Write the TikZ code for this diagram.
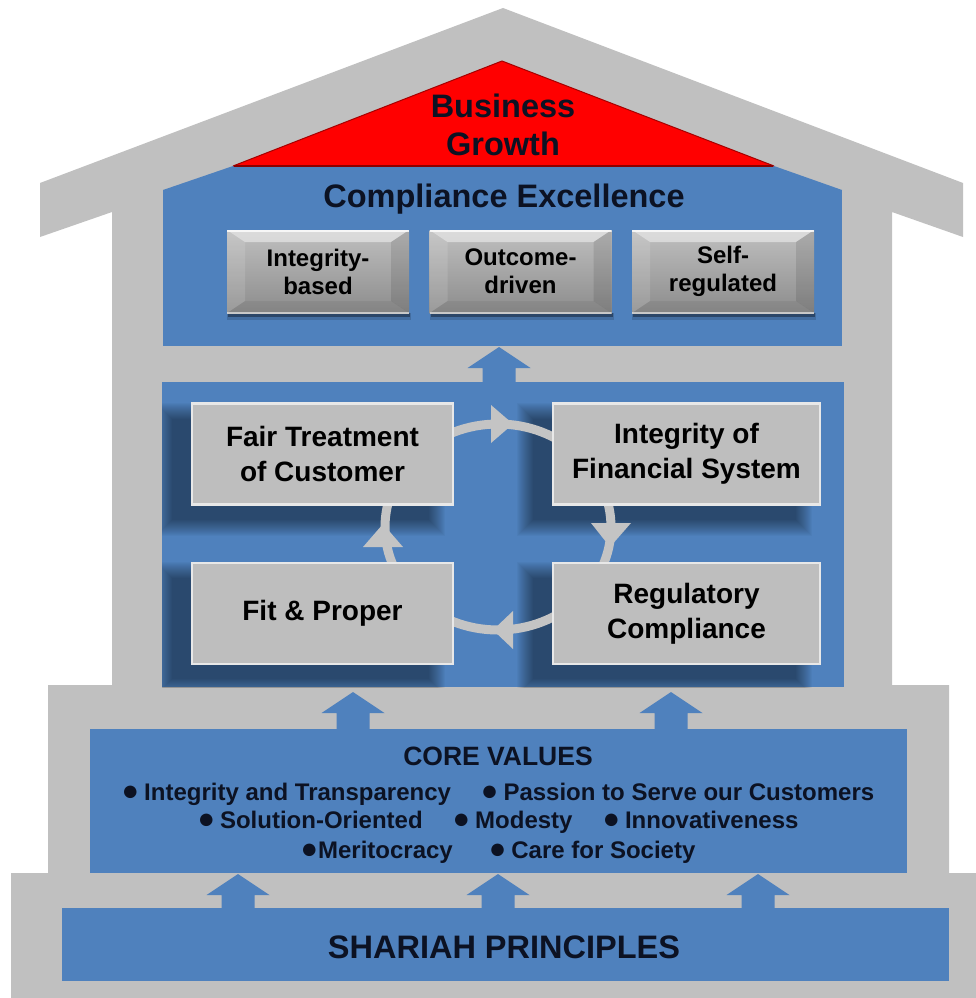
\documentclass[tikz,border=0pt]{standalone}
\usepackage{fontspec}
\setmainfont{Liberation Sans}
\usetikzlibrary{calc}

\definecolor{housegray}{RGB}{192,192,192}
\definecolor{bluemain}{RGB}{79,129,189}
\definecolor{darktext}{RGB}{12,18,35}
\definecolor{redroof}{RGB}{255,0,0}
\definecolor{boxgray}{RGB}{190,190,190}
\definecolor{ringgray}{RGB}{196,196,196}

\newcommand\bul{{\fontsize{29}{29}\selectfont ●}\hspace{5pt}}
\newcommand\bulx{{\fontsize{29}{29}\selectfont ●}}

% soft blurred shadow under a node
\newcommand\softshadow[1]{%
  \foreach \e in {16,15,...,0}{%
    \fill[black,opacity=0.026] ([shift={(-20-\e,15-\e)}]#1.north west) rectangle ([shift={(-24+\e,15+\e)}]#1.south east);
  }}
% block arrow from a point on a node to a tip coordinate
\newcommand\blockarrow[2]{%
  \fill[bluemain] let \p1=(#1), \p2=(#2) in
   (\x1-16.5pt,\y1) -- (\x1-16.5pt,\y2-21pt) -- (\x1-31.5pt,\y2-21pt) -- (\x1,\y2)
   -- (\x1+31.5pt,\y2-21pt) -- (\x1+16.5pt,\y2-21pt) -- (\x1+16.5pt,\y1) -- cycle;}

\begin{document}
\begin{tikzpicture}[x=1pt,y=-1pt,
  every node/.style={inner sep=0pt,outer sep=0pt},
  panel/.style={fill=bluemain,draw=none},
  headtext/.style={font=\fontsize{32.5}{38}\selectfont\bfseries,text=darktext,align=center},
  smallbox/.style={top color=gray!50!white,bottom color=gray!90!white,
     minimum width=182pt,minimum height=83pt,align=center,
     font=\fontsize{24}{28}\selectfont\bfseries,text=black,
     path picture={
       \fill[white,opacity=.45] (path picture bounding box.north west) -- (path picture bounding box.north east)
         -- ([xshift=-18pt,yshift=-12pt]path picture bounding box.north east) -- ([xshift=18pt,yshift=-12pt]path picture bounding box.north west) -- cycle;
       \fill[white,opacity=.12] (path picture bounding box.north west) -- (path picture bounding box.south west)
         -- ([xshift=18pt,yshift=12pt]path picture bounding box.south west) -- ([xshift=18pt,yshift=-12pt]path picture bounding box.north west) -- cycle;
       \fill[black,opacity=.10] (path picture bounding box.north east) -- (path picture bounding box.south east)
         -- ([xshift=-18pt,yshift=12pt]path picture bounding box.south east) -- ([xshift=-18pt,yshift=-12pt]path picture bounding box.north east) -- cycle;
       \fill[black,opacity=.06] (path picture bounding box.south west) -- (path picture bounding box.south east)
         -- ([xshift=-18pt,yshift=12pt]path picture bounding box.south east) -- ([xshift=18pt,yshift=12pt]path picture bounding box.south west) -- cycle;
       \draw[white,opacity=.8,line width=3pt] (path picture bounding box.north west) -- (path picture bounding box.north east);
       \draw[white,opacity=.55,line width=2.5pt] (path picture bounding box.south west) -- (path picture bounding box.south east);
     }},
  midbox/.style={fill=boxgray,draw=white!65!boxgray,line width=2.5pt,
     minimum height=101pt,align=center,
     font=\fontsize{28}{35}\selectfont\bfseries,text=black},
  cvtitle/.style={font=\fontsize{26.5}{30}\selectfont\bfseries,text=darktext},
  cvline/.style={font=\fontsize{24}{29}\selectfont\bfseries,text=darktext},
  ring/.style={draw=ringgray,line width=9pt},
  ringhead/.style={fill=ringgray}
]
\useasboundingbox (0,0) rectangle (976,998);
\fill[white] (0,0) rectangle (976,998);

% ---------------- house outline
\fill[housegray] (503,8) -- (963,183) -- (963,237) -- (892,212) -- (892,685) -- (949,685)
  -- (949,873) -- (976,873) -- (976,998) -- (11,998) -- (11,873) -- (48,873) -- (48,685)
  -- (112,685) -- (112,212) -- (40,237) -- (40,183) -- cycle;

% ---------------- compliance excellence panel
\node[panel,minimum width=679pt,minimum height=156pt] (comp) at (502.5,268) {};
\fill[bluemain] (comp.north west) -- (233,166) -- (774,166) -- (comp.north east) -- cycle;
\fill[redroof] (233,166) -- (502,61) -- (774,166) -- cycle;
\draw[red!65!black,line width=1pt] (233,166) -- (502,61) -- (774,166);
\draw[red!55!black,line width=2pt] (234,166) -- (773,166);
\node[headtext] (growth) at (503,125) {Business\\Growth};
\node[headtext,anchor=base] (cetitle) at (504,207) {Compliance Excellence};

% small beveled boxes
\foreach \nm/\cx in {ib/318,od/520.5,sr/723}{
  \fill[black,opacity=.35] (\cx-90,313) rectangle (\cx+92,317);
  \fill[black,opacity=.15] (\cx-91,313) rectangle (\cx+93,320);
}
\node[smallbox] (ib) at (318,271.5) {Integrity-\\based};
\node[smallbox] (od) at (520.5,271.5) {Outcome-\\driven};
\node[smallbox] (sr) at (723,271.5) {Self-\\regulated};

% ---------------- middle panel
\node[panel,minimum width=682pt,minimum height=305pt] (mid) at (503,534.5) {};

% box placeholders for shadows
\coordinate (cyc) at (498,527);
\node[midbox,minimum width=261pt,draw=none,fill=none] (ftS) at (322.5,454) {};
\node[midbox,minimum width=267pt,draw=none,fill=none] (ifsS) at (686.5,454) {};
\node[midbox,minimum width=261pt,draw=none,fill=none] (fpS) at (322.5,613.5) {};
\node[midbox,minimum width=267pt,draw=none,fill=none] (rcS) at (686.5,613.5) {};
\begin{scope}
  \clip (mid.north west) rectangle (mid.south east);
  \softshadow{ftS}
  \softshadow{ifsS}
  \softshadow{fpS}
  \softshadow{rcS}
\end{scope}

% cycle ring
\draw[ring] (cyc) ellipse [x radius=113pt,y radius=103pt];
\begin{scope}[shift={(cyc)}]
  \fill[ringhead] (-7,-122) -- (-7,-84) -- (15,-103) -- cycle;    % top, to the right
  \fill[ringhead] (93,-4) -- (133,-4) -- (112,20) -- cycle;        % right, downwards
  \fill[ringhead] (15,84) -- (15,122) -- (-5,103) -- cycle;        % bottom, to the left
  \fill[ringhead] (-135,20) -- (-95,20) -- (-115,-3) -- cycle;     % left, upwards
\end{scope}

\node[midbox,minimum width=261pt] (ft) at (322.5,454) {Fair Treatment\\of Customer};
\node[midbox,minimum width=267pt] (ifs) at (686.5,454) {Integrity of\\Financial System};
\node[midbox,minimum width=261pt] (fp) at (322.5,613.5) {Fit \& Proper};
\node[midbox,minimum width=267pt] (rc) at (686.5,613.5) {Regulatory\\Compliance};

% ---------------- core values panel
\node[panel,minimum width=817pt,minimum height=144pt] (core) at (498.5,801) {};
\node[cvtitle,anchor=base] (cvt) at (498,765) {CORE VALUES};
\node[cvline,anchor=base] (cv1) at (498,800) {\bul Integrity and Transparency\hspace{30pt}\bul Passion to Serve our Customers};
\node[cvline,anchor=base] (cv2) at (498,828) {\bul Solution-Oriented\hspace{30pt}\bul Modesty\hspace{30pt}\bul Innovativeness};
\node[cvline,anchor=base] (cv3) at (498,858) {\bulx Meritocracy\hspace{36pt}\bul Care for Society};

% ---------------- shariah panel
\node[panel,minimum width=887pt,minimum height=73pt] (shar) at (505.5,944.5) {};
\node[headtext,anchor=base] (shart) at (504,958) {SHARIAH PRINCIPLES};

% ---------------- block arrows
\coordinate (tA) at (499,347);
\coordinate (tB) at (353,692);
\coordinate (tC) at (671,692);
\coordinate (tD) at (238,874);
\coordinate (tE) at (498,874);
\coordinate (tF) at (758,874);
\blockarrow{mid.north -| tA}{tA}
\blockarrow{core.north -| tB}{tB}
\blockarrow{core.north -| tC}{tC}
\blockarrow{shar.north -| tD}{tD}
\blockarrow{shar.north -| tE}{tE}
\blockarrow{shar.north -| tF}{tF}
\end{tikzpicture}
\end{document}
